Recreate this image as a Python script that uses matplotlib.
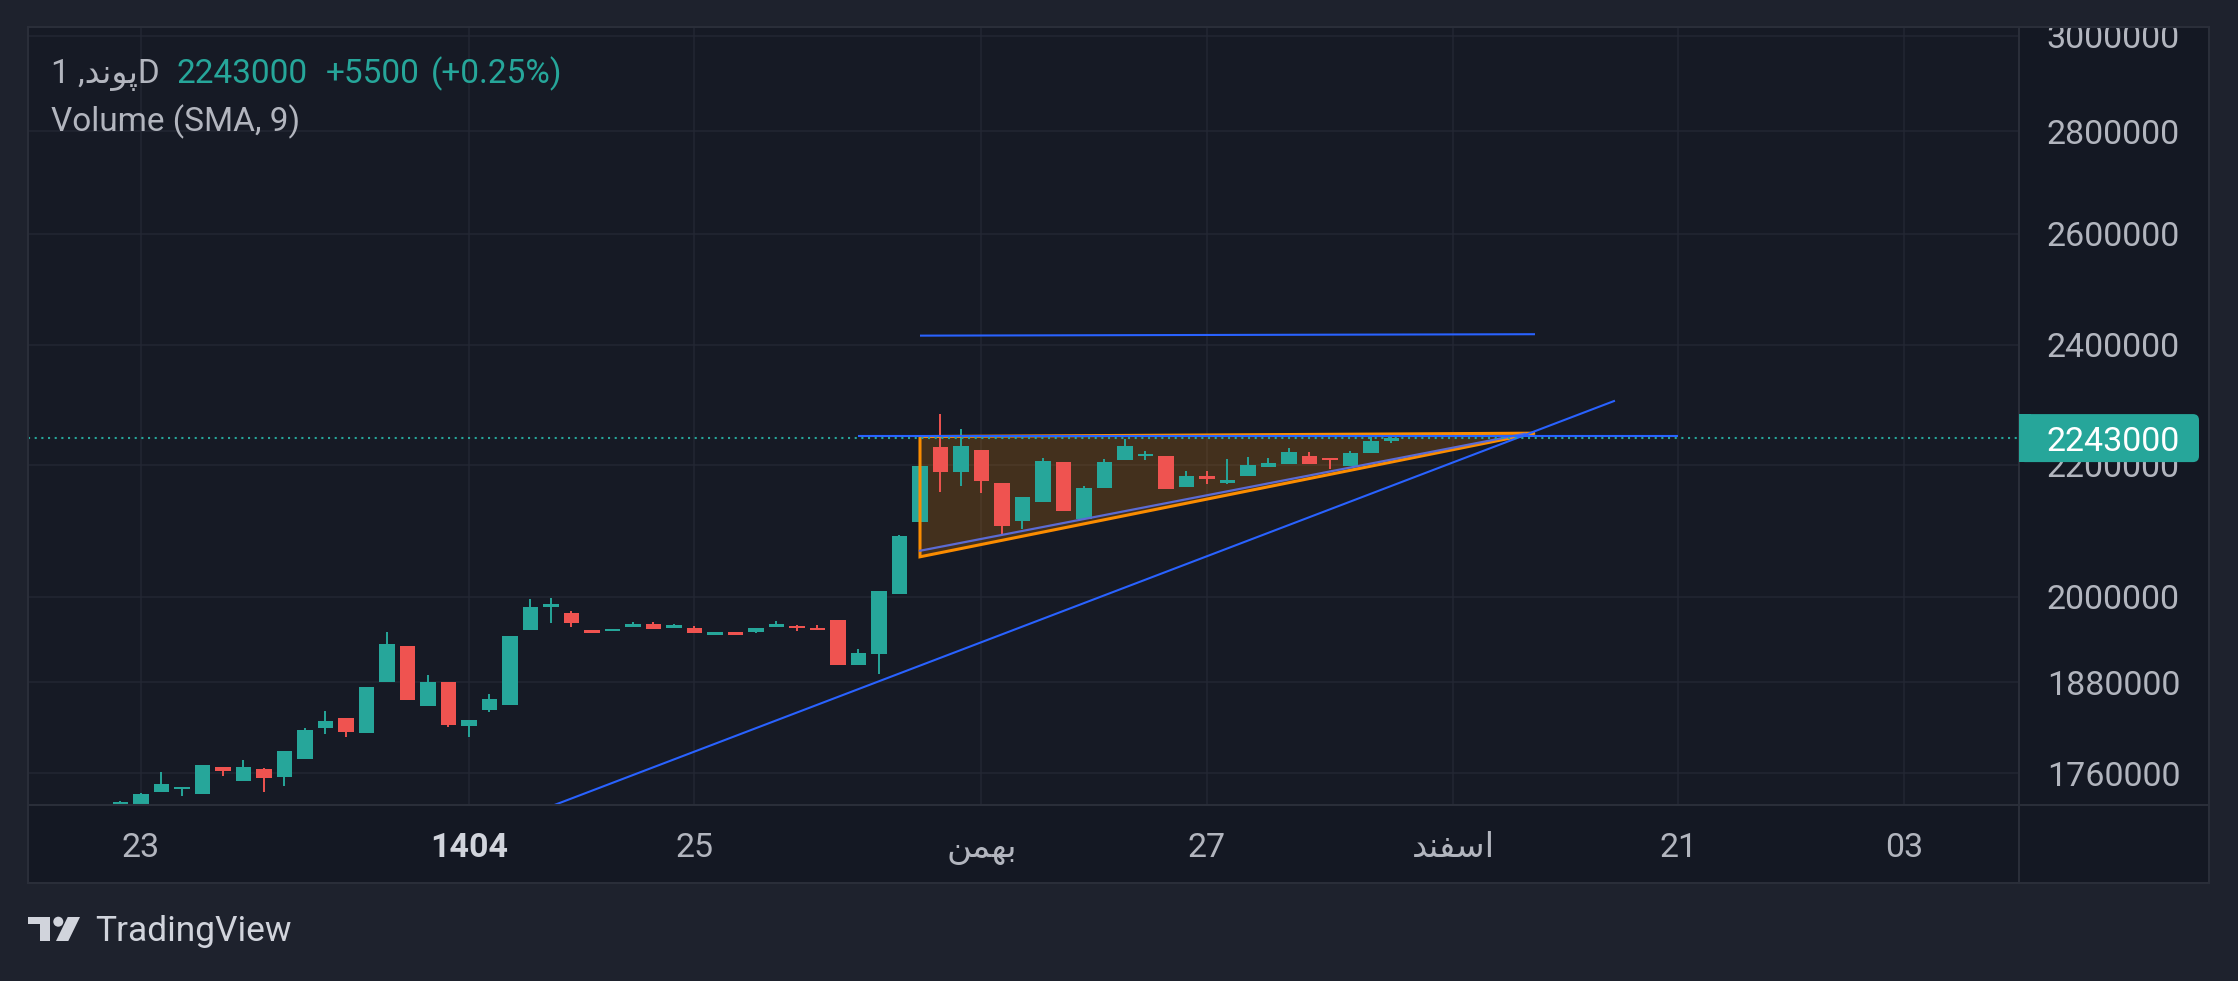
import matplotlib
matplotlib.use("Agg")
import matplotlib.pyplot as plt
import matplotlib.transforms as mtransforms
from matplotlib.patches import Rectangle, FancyBboxPatch, Polygon, Circle
from matplotlib.lines import Line2D
from matplotlib.ticker import FixedLocator, NullLocator, FuncFormatter

# daily candles, bar index 0..62
opens = [1712000, 1714000, 1736500, 1740500, 1734000, 1768500, 1750500, 1765500, 1755500, 1778500,
         1819000, 1832000, 1812500, 1880500, 1930000, 1848000, 1880500, 1821500, 1842500, 1849500,
         1952500, 1985000, 1976500, 1952500, 1951000, 1956500, 1961000, 1955000, 1955000, 1945500,
         1949500, 1949500, 1956500, 1958000, 1955000, 1966500, 1903500, 1919000, 2004000, 2111000,
         2228500, 2188500, 2224000, 2171500, 2112500, 2141500, 2204500, 2115500, 2163500, 2208000,
         2214000, 2214000, 2165000, 2182500, 2171500, 2182500, 2196500, 2201500, 2214000, 2211000,
         2198000, 2219000, 2237500]
highs = [1725000, 1735500, 1762000, 1743000, 1771000, 1768500, 1777500, 1767000, 1789000, 1819000,
         1841500, 1832000, 1873500, 1949500, 1930000, 1890000, 1880500, 1829500, 1864000, 1944000,
         1996500, 1998000, 1979500, 1952500, 1954000, 1964000, 1964000, 1961000, 1958000, 1949500,
         1949500, 1955000, 1965000, 1959500, 1959500, 1966500, 1926000, 2008500, 2091000, 2203000,
         2282500, 2258000, 2224000, 2171500, 2150000, 2211000, 2204500, 2166500, 2209500, 2241500,
         2222000, 2214000, 2190500, 2190500, 2209500, 2212500, 2211000, 2227000, 2220500, 2211000,
         2222000, 2245000, 2246500]
lows = [1710000, 1712000, 1736500, 1731500, 1734000, 1757000, 1750500, 1736500, 1744000, 1778500,
        1811000, 1807000, 1812500, 1880500, 1856000, 1848000, 1820000, 1807000, 1840000, 1849500,
        1952500, 1962500, 1956500, 1948000, 1951000, 1956500, 1954000, 1955000, 1948000, 1945500,
        1945500, 1948000, 1956500, 1951000, 1952500, 1903500, 1903500, 1891500, 2004000, 2111000,
        2157500, 2166500, 2155500, 2091000, 2100500, 2141500, 2128000, 2115500, 2163500, 2208000,
        2207500, 2162000, 2165000, 2170000, 2170000, 2182500, 2196500, 2201500, 2201500, 2193500,
        2198000, 2219000, 2235000]
closes = [1724000, 1734000, 1746500, 1743000, 1771000, 1763000, 1768500, 1754500, 1789000, 1816000,
          1828000, 1813500, 1873500, 1933000, 1856000, 1880500, 1823000, 1829500, 1857500, 1944000,
          1985000, 1989500, 1962500, 1948000, 1954000, 1961000, 1954000, 1959500, 1948000, 1949500,
          1945500, 1955000, 1961000, 1955000, 1952500, 1903500, 1920000, 2008500, 2089500, 2198000,
          2188500, 2230500, 2174500, 2105000, 2149500, 2206000, 2128000, 2163500, 2204500, 2230500,
          2217500, 2162000, 2182500, 2177500, 2176000, 2200000, 2203000, 2220500, 2201500, 2208000,
          2219000, 2237500, 2243000]

y_ticks = [1760000, 1880000, 2000000, 2200000, 2400000, 2600000, 2800000, 3000000]
x_tick_pos = [1, 17, 28, 42, 53, 65, 76, 87]
x_tick_labels = ["23", "1404", "25", "بهمن", "27", "اسفند", "21", "03"]

symbol = "پوند"
last_price = 2243000
change = 5500
change_pct = 0.25

# drawings (bar index, price)
triangle = [(39, 2245500), (69, 2251000), (39, 2058500)]
inner_line = [(39, 2067500), (68.5, 2250000)]
upper_line = [(39, 2415500), (69, 2418000)]
level_line = [(36, 2246500), (76, 2246500)]
trend_line = [(21, 1718700), (72.9, 2304500)]

UP, DOWN = "#26a69a", "#ef5350"
BLUE, ORANGE = "#2962ff", "#fb8c00"
OUTER, PANE, AXBG = "#1e222d", "#161a25", "#141823"
GRID, BORDER = "#232733", "#2a2e39"
TXT, TXT2 = "#d1d4dc", "#b2b5be"
FS = 24.5

plt.rcParams["font.family"] = ["Roboto", "DejaVu Sans"]

# minimal Persian shaping (presentation forms, visual order)
FORMS = {
    "ا": ("\uFE8D", "\uFE8E", None, None),
    "ب": ("\uFE8F", "\uFE90", "\uFE91", "\uFE92"),
    "پ": ("\uFB56", "\uFB57", "\uFB58", "\uFB59"),
    "د": ("\uFEA9", "\uFEAA", None, None),
    "س": ("\uFEB1", "\uFEB2", "\uFEB3", "\uFEB4"),
    "ف": ("\uFED1", "\uFED2", "\uFED3", "\uFED4"),
    "م": ("\uFEE1", "\uFEE2", "\uFEE3", "\uFEE4"),
    "ن": ("\uFEE5", "\uFEE6", "\uFEE7", "\uFEE8"),
    "و": ("\uFEED", "\uFEEE", None, None),
    "ه": ("\uFEE9", "\uFEEA", "\uFEEB", "\uFEEC"),
}


def shape(word):
    if not any(ch in FORMS for ch in word):
        return word
    out = []
    for k, ch in enumerate(word):
        f = FORMS.get(ch)
        if f is None:
            out.append(ch)
            continue
        prev = word[k - 1] if k > 0 else None
        nxt = word[k + 1] if k + 1 < len(word) else None
        jp = prev in FORMS and FORMS[prev][2] is not None
        jn = nxt in FORMS and f[2] is not None
        if jp and jn:
            out.append(f[3])
        elif jp:
            out.append(f[1])
        elif jn:
            out.append(f[2])
        else:
            out.append(f[0])
    return "".join(reversed(out))


W, H = 2238, 981
fig = plt.figure(figsize=(W / 100, H / 100), dpi=100, facecolor=OUTER)
ident = mtransforms.IdentityTransform()


def px(x, y):
    return (x, H - y)


# chart frame
fig.add_artist(Rectangle(px(28, 883), 2209 - 28, 883 - 27, transform=ident,
                         fc=AXBG, ec="none", zorder=0))

ax = fig.add_axes([28 / W, 1 - 805 / H, (2019 - 28) / W, (805 - 27) / H])
ax.set_zorder(1)
ax.set_facecolor(PANE)
for s in ax.spines.values():
    s.set_visible(False)

ax.set_yscale("log")
ax.set_xlim(-4.512, 92.61)
ax.set_ylim(1720300, 3019500)
ax.yaxis.set_major_locator(FixedLocator(y_ticks))
ax.yaxis.set_minor_locator(NullLocator())
ax.yaxis.set_major_formatter(FuncFormatter(lambda v, _: f"{v:.0f}"))
ax.yaxis.tick_right()
ax.tick_params(axis="y", length=0, pad=20, labelsize=FS, labelcolor=TXT2)
ax.set_xticks(x_tick_pos)
ax.tick_params(axis="x", length=0, labelbottom=False)
ax.grid(True, color=GRID, lw=1.1)
ax.set_axisbelow(True)

# triangle pattern
tri = Polygon(triangle, closed=True, fc=ORANGE, alpha=0.2, ec="none", zorder=2)
ax.add_patch(tri)
ax.add_patch(Polygon(triangle, closed=True, fill=False, ec=ORANGE, lw=2.2, zorder=4))
ax.plot(*zip(*inner_line), color="#5b6bd5", lw=1.6, zorder=4)

# candles
for i, (o, h, l, c) in enumerate(zip(opens, highs, lows, closes)):
    col = UP if c >= o else DOWN
    ax.vlines(i, l, h, color=col, lw=1.4, zorder=3)
    ax.bar(i, abs(c - o), bottom=min(o, c), width=0.78, color=col, lw=0, zorder=3)

# blue lines
for seg in (upper_line, level_line, trend_line):
    ax.plot(*zip(*seg), color=BLUE, lw=1.5, zorder=4, solid_capstyle="butt")

# last price dotted line
ax.axhline(last_price, color=UP, lw=1.5, ls=(0, (1, 2.2)), zorder=5)

# time axis labels
xtr = mtransforms.blended_transform_factory(ax.transData, ax.transAxes)
for pos, lab in zip(x_tick_pos, x_tick_labels):
    bold = lab == "1404"
    ax.text(pos, -(857 - 805) / 778, shape(lab), transform=xtr, ha="center", va="baseline",
            fontsize=FS, color=TXT if bold else TXT2, fontweight="bold" if bold else "normal",
            clip_on=False)

# mask above pane (clips the top tick label) and frame lines
fig.add_artist(Rectangle((0, H - 27), W, 27, transform=ident, fc=OUTER, ec="none", zorder=5))
fig.add_artist(Rectangle(px(28, 883), 2209 - 28, 883 - 27, transform=ident,
                         fill=False, ec=BORDER, lw=1.5, zorder=6))
fig.add_artist(Line2D([2019, 2019], [H - 27, H - 883], transform=ident, color=BORDER, lw=1.5, zorder=6))
fig.add_artist(Line2D([28, 2209], [H - 805, H - 805], transform=ident, color=BORDER, lw=1.5, zorder=6))

# last price label on the price scale
ly = ax.transData.transform((0, last_price))[1]
fig.add_artist(FancyBboxPatch((2019, ly - 24), 180, 48, boxstyle="round,pad=0,rounding_size=6",
                              transform=ident, fc=UP, ec="none", zorder=7))
fig.add_artist(Rectangle((2019, ly - 24), 12, 48, transform=ident, fc=UP, ec="none", zorder=7))
fig.text(2047 / W, ly / H, f"{last_price}", ha="left", va="center_baseline",
         fontsize=FS, color="white", zorder=8)

# legend line
fig.text(51 / W, 1 - 83 / H, f"1 ,{shape(symbol)}D", fontsize=24, color=TXT2, va="baseline")
fig.text(177 / W, 1 - 83 / H, f"{last_price}", fontsize=24, color=UP, va="baseline")
fig.text(326 / W, 1 - 83 / H, f"+{change}", fontsize=24, color=UP, va="baseline")
fig.text(431 / W, 1 - 83 / H, f"(+{change_pct:.2f}%)", fontsize=24, color=UP, va="baseline")
fig.text(51 / W, 1 - 131 / H, "Volume (SMA, 9)", fontsize=24, color=TXT2, va="baseline")

# TradingView logo
logo = "#d1d4dc"
fig.add_artist(Rectangle(px(28, 924), 22, 7, transform=ident, fc=logo, ec="none"))
fig.add_artist(Rectangle(px(40, 941), 10, 24, transform=ident, fc=logo, ec="none"))
fig.add_artist(Circle(px(58.3, 921.7), 5, transform=ident, fc=logo, ec="none"))
fig.add_artist(Polygon([px(67.7, 917), px(80, 917), px(68.3, 941), px(56, 941)],
                       closed=True, transform=ident, fc=logo, ec="none"))
fig.text(95 / W, 1 - 941 / H, "TradingView", fontsize=25.5, color=logo, va="baseline")

fig.savefig("out.png", dpi=100, facecolor=OUTER)
